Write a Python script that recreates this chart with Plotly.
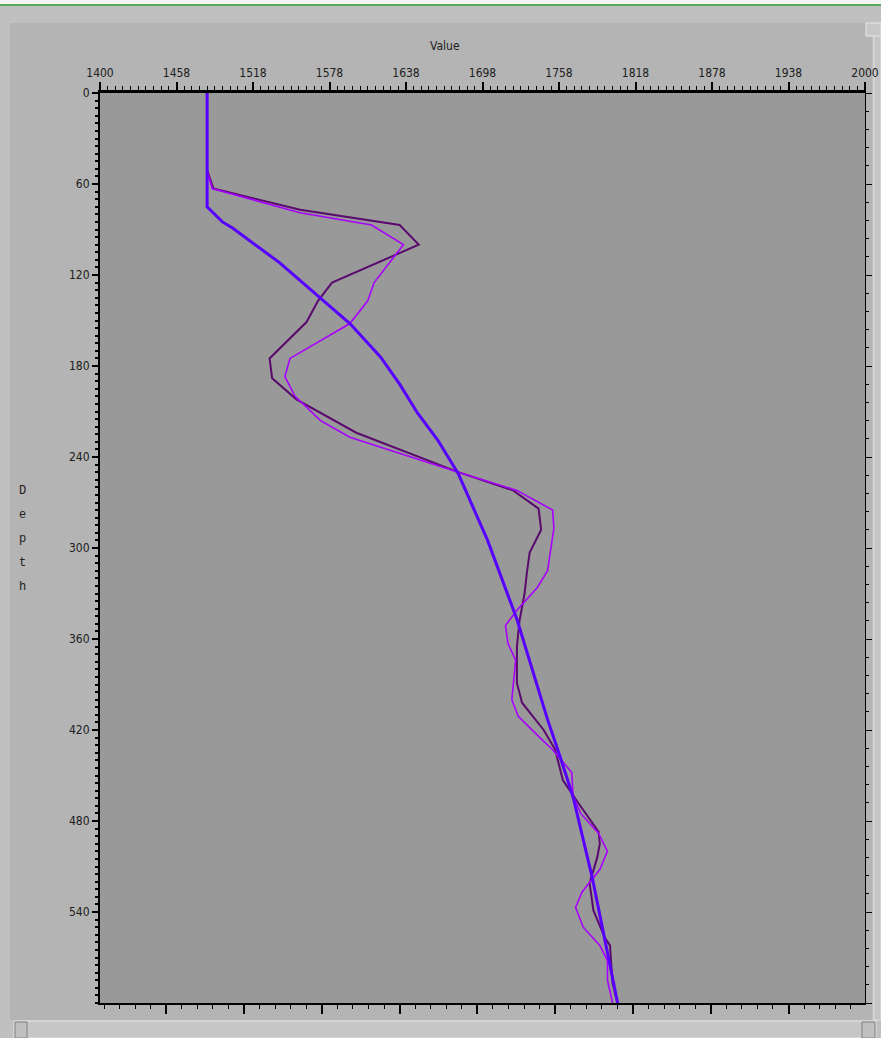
import plotly.graph_objects as go

# ---- data: value vs depth for three profiles ----
smooth_depth = [0, 75, 85, 89, 112, 135, 152, 174, 192, 211, 229, 251, 295, 347, 413, 438, 464, 517, 600]
smooth_value = [1484, 1484, 1496, 1504, 1541, 1573, 1596, 1620, 1635, 1649, 1665, 1681, 1704, 1727, 1751, 1761, 1771, 1786, 1806]

dark_depth = [0, 51, 63, 77, 87, 100, 125, 137, 151, 175, 188, 202, 224, 250, 262, 274, 288, 303, 315,
              330, 348, 365, 389, 402, 420, 433, 453, 468, 487, 495, 504, 521, 539, 557, 562, 587, 600]
dark_value = [1484, 1484, 1489, 1557, 1635, 1650, 1582, 1571, 1562, 1533, 1535, 1554, 1601, 1681, 1724,
              1744, 1746, 1737, 1735, 1733, 1729, 1727, 1727, 1731, 1748, 1757, 1763, 1775, 1791, 1792,
              1790, 1784, 1787, 1796, 1800, 1802, 1806]

bright_depth = [0, 51, 63, 79, 87, 100, 125, 137, 152, 175, 187, 200, 216, 227, 250, 262, 275, 287, 315,
                326, 341, 351, 363, 374, 400, 411, 425, 433, 448, 463, 475, 488, 500, 512, 527, 537, 550,
                562, 572, 585, 600]
bright_value = [1484, 1484, 1488, 1557, 1613, 1638, 1615, 1610, 1596, 1549, 1545, 1553, 1573, 1596, 1681,
                1727, 1755, 1756, 1751, 1743, 1727, 1718, 1720, 1726, 1723, 1728, 1745, 1755, 1770, 1771,
                1777, 1791, 1798, 1792, 1778, 1773, 1779, 1792, 1798, 1798, 1802]

x_tick_vals = [1400, 1460, 1520, 1580, 1640, 1700, 1760, 1820, 1880, 1940, 2000]
x_tick_text = ["1400", "1458", "1518", "1578", "1638", "1698", "1758", "1818", "1878", "1938", "2000"]
y_tick_vals = [0, 60, 120, 180, 240, 300, 360, 420, 480, 540]

# ---- page geometry (pixels) ----
W, H = 881, 1038
L, R, T, B = 100, 865, 93, 1003


def px(x):
    return (x - L) / (R - L)


def py(y):
    return (B - y) / (B - T)


def rect(x0, y0, x1, y1, fill, line=None, lw=0):
    return dict(type="rect", xref="paper", yref="paper", layer="below",
                x0=px(x0), x1=px(x1), y0=py(y1), y1=py(y0),
                fillcolor=fill, line=dict(color=line or fill, width=lw))


shapes = [
    rect(0, 0, W, 5, "#f4f4f4"),
    rect(0, 4, W, 6, "#5aa85a"),
    rect(0, 6, W, H, "#c0c0c0"),
    rect(10, 23, 872, 1020, "#b4b4b4"),
    rect(L, T, R, B, "#999999"),
    # scrollbars
    rect(874, 24, W, 1020, "#c4c4c4", "#e0e0e0", 1),
    rect(866, 23, W, 36, "#c8c8c8", "#e8e8e8", 1),
    rect(14, 1021, 876, H, "#c6c6c6", "#e6e6e6", 1),
    rect(15, 1022, 27, H, "#c0c0c0", "#808080", 1),
    rect(862, 1022, 875, H, "#c0c0c0", "#808080", 1),
]

tick_font = dict(family="Liberation Sans Narrow, DejaVu Sans Condensed, sans-serif", size=12, color="#202020")

fig = go.Figure()
fig.add_trace(go.Scatter(x=dark_value, y=dark_depth, mode="lines",
                         line=dict(color="#5a0a6e", width=2), showlegend=False))
fig.add_trace(go.Scatter(x=bright_value, y=bright_depth, mode="lines",
                         line=dict(color="#a800ff", width=1.6), showlegend=False))
fig.add_trace(go.Scatter(x=smooth_value, y=smooth_depth, mode="lines",
                         line=dict(color="#5800ff", width=3), showlegend=False))
# companion trace so the mirrored axes are drawn
fig.add_trace(go.Scatter(x=[1400], y=[0], xaxis="x2", yaxis="y2", mode="markers",
                         marker=dict(opacity=0), showlegend=False, hoverinfo="skip"))

fig.update_layout(
    template="none",
    width=W, height=H,
    margin=dict(l=L, r=W - R, t=T, b=H - B, pad=0),
    paper_bgcolor="#c0c0c0",
    plot_bgcolor="rgba(0,0,0,0)",
    shapes=shapes,
    xaxis=dict(side="top", range=[1400, 2000], tickmode="array", tickvals=x_tick_vals, ticktext=x_tick_text,
               ticks="outside", ticklen=8, tickwidth=2, tickcolor="black", automargin=False,
               minor=dict(ticks="outside", ticklen=4, tickwidth=1, tickcolor="black", tick0=1400, dtick=6),
               showline=True, linecolor="black", linewidth=3, showgrid=False, zeroline=False,
               tickfont=tick_font),
    xaxis2=dict(overlaying="x", side="bottom", range=[1400, 2000], tickmode="linear", tick0=1452, dtick=61,
                ticks="outside", ticklen=9, tickwidth=2, tickcolor="black", showticklabels=False,
                automargin=False,
                minor=dict(ticks="outside", ticklen=4, tickwidth=1, tickcolor="black", tick0=1452, dtick=12.2),
                showline=True, linecolor="black", linewidth=2, showgrid=False, zeroline=False),
    yaxis=dict(range=[600, 0], tickmode="array", tickvals=y_tick_vals,
               ticks="outside", ticklen=6, tickwidth=2, tickcolor="black", automargin=False,
               minor=dict(ticks="outside", ticklen=3, tickwidth=2, tickcolor="black", tick0=0, dtick=5),
               showline=True, linecolor="black", linewidth=2, showgrid=False, zeroline=False,
               tickfont=tick_font),
    yaxis2=dict(overlaying="y", side="right", range=[600, 0], tickmode="linear", tick0=0, dtick=60,
                ticks="outside", ticklen=6, tickwidth=1, tickcolor="black", showticklabels=False,
                automargin=False,
                minor=dict(ticks="outside", ticklen=3, tickwidth=1, tickcolor="black", tick0=0, dtick=12),
                showline=True, linecolor="black", linewidth=1, showgrid=False, zeroline=False),
)

label_font = dict(family="Liberation Sans Narrow, DejaVu Sans Condensed, sans-serif", size=12, color="#202020")
fig.add_annotation(text="Value", xref="paper", yref="paper", x=px(445), y=py(46),
                   xanchor="center", yanchor="middle", showarrow=False, font=label_font)
for i, ch in enumerate("Depth"):
    fig.add_annotation(text=ch, xref="paper", yref="paper", x=px(22), y=py(491 + 24 * i),
                       xanchor="center", yanchor="middle", showarrow=False,
                       font=dict(family="Liberation Mono, DejaVu Sans Mono, monospace", size=12, color="#202020"))

fig.write_html("out.html")
